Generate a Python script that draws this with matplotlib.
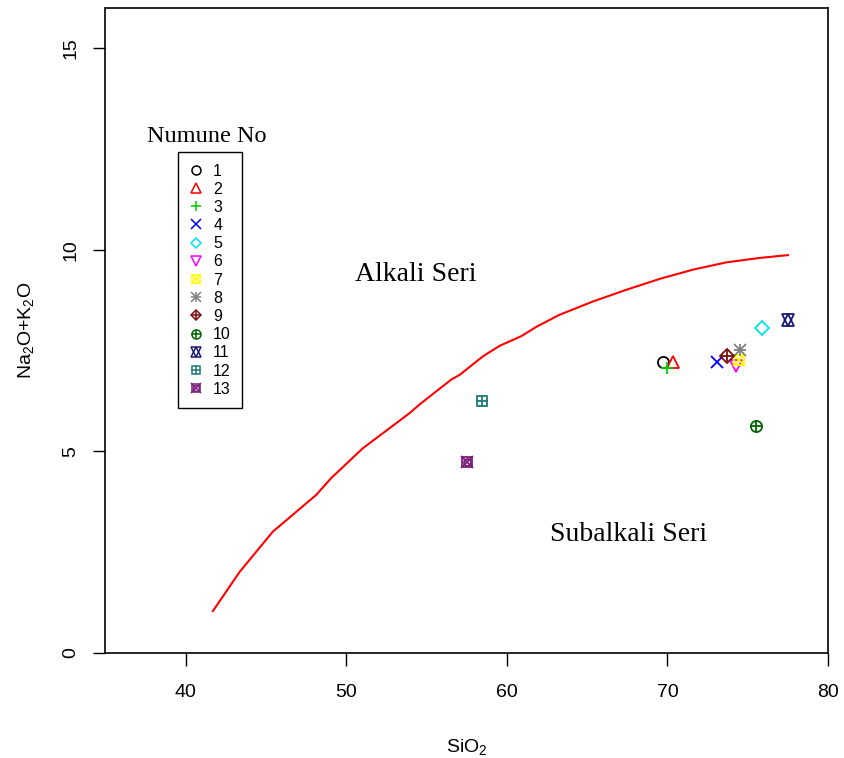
import matplotlib
matplotlib.use("Agg")
import matplotlib.pyplot as plt
from matplotlib.lines import Line2D

plt.rcParams["font.family"] = ["Liberation Sans", "DejaVu Sans"]
plt.rcParams["mathtext.default"] = "regular"

# ayırım eğrisi (Irvine & Baragar), resimden okunan noktalar
curve_x = [41.69, 43.35, 45.42, 48.12, 49.06, 51.03, 53.94, 54.67, 56.53, 57.06,
           58.51, 59.55, 60.90, 61.83, 63.28, 65.36, 67.44, 69.52, 71.59, 73.67,
           75.74, 77.51]
curve_y = [1.04, 2.01, 3.01, 3.92, 4.34, 5.08, 5.95, 6.20, 6.78, 6.90,
           7.36, 7.62, 7.86, 8.09, 8.39, 8.72, 9.01, 9.28, 9.51, 9.69,
           9.80, 9.87]

# numuneler
sample_ids = ["1", "2", "3", "4", "5", "6", "7", "8", "9", "10", "11", "12", "13"]
sio2 = [69.72, 70.35, 69.97, 73.09, 75.89, 74.25, 74.45, 74.50, 73.71, 75.53, 77.51, 58.46, 57.53]
alkali = [7.23, 7.23, 7.07, 7.23, 8.05, 7.13, 7.26, 7.52, 7.36, 5.64, 8.25, 6.26, 4.75]
colors = ["black", "#FF0000", "#00CD00", "#0000FF", "#00E5EE", "#FF00FF", "#FFFF00",
          "#808080", "#7A1010", "#006400", "#191970", "#1F7A7A", "#7B1F7B"]
# R pch sembolleri -> üst üste çizilen matplotlib markerları
symbols = [["o"], ["^"], ["+"], ["x"], ["D"], ["v"], ["s", "x"], ["+", "x"],
           ["D", "+"], ["o", "+"], ["^", "v"], ["s", "+"], ["s", "x", "o"]]

fig = plt.figure(figsize=(8.45, 7.58), dpi=100)
ax = fig.add_axes([105.5 / 845, 1 - 653 / 758, (828 - 105.5) / 845, (653 - 8) / 758])

ax.plot(curve_x, curve_y, color="red", lw=1.5)


def msize(m, base):
    if m == "D":
        return base * 0.85
    if m in ("+", "x"):
        return base * 1.05
    if m == "s":
        return base * 0.85
    return base


handles = []
for i in range(len(sample_ids)):
    parts = []
    for m in symbols[i]:
        ms = msize(m, 8)
        if len(symbols[i]) == 3 and m == "o":
            ms = 5
        ax.plot(sio2[i], alkali[i], linestyle="none", marker=m, markersize=ms,
                markerfacecolor="none", markeredgecolor=colors[i], markeredgewidth=1.3)
        lms = msize(m, 6.5)
        if len(symbols[i]) == 3 and m == "o":
            lms = 4.3
        parts.append(Line2D([], [], linestyle="none", marker=m, markersize=lms,
                            markerfacecolor="none", markeredgecolor=colors[i],
                            markeredgewidth=1.1))
    handles.append(tuple(parts))

leg = ax.legend(handles, sample_ids, loc="upper left",
                bbox_to_anchor=(73 / 722.5, 501 / 645), borderaxespad=0,
                fontsize=11.5, labelspacing=0.2, handlelength=0.7,
                handletextpad=0.75, borderpad=0.72, fancybox=False,
                framealpha=1, edgecolor="black")
leg.get_frame().set_linewidth(1.0)

serif = ["Liberation Serif", "DejaVu Serif"]
ax.text(41.29, 12.81, "Numune No", family=serif, fontsize=17.5, ha="center", va="center")
ax.text(54.3, 9.39, "Alkali Seri", family=serif, fontsize=20, ha="center", va="center")
ax.text(67.6, 2.93, "Subalkali Seri", family=serif, fontsize=20, ha="center", va="center")

ax.set_xlim(35, 80)
ax.set_ylim(0, 16)
ax.set_xticks([40, 50, 60, 70, 80])
ax.set_yticks([0, 5, 10, 15])
ax.tick_params(axis="both", labelsize=14, length=9, width=1)
ax.tick_params(axis="x", pad=13)
ax.tick_params(axis="y", pad=10)
plt.setp(ax.get_yticklabels(), rotation=90, va="center")
for s in ax.spines.values():
    s.set_linewidth(1.2)

ax.set_xlabel("SiO$_2$", fontsize=14, labelpad=26)
ax.set_ylabel("Na$_2$O+K$_2$O", fontsize=14, labelpad=19)

fig.savefig("out.png", dpi=100)
